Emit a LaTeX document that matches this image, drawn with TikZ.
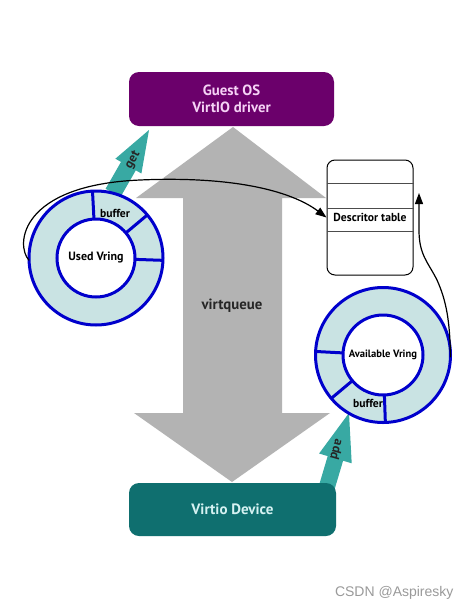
\documentclass[tikz,border=0pt]{standalone}
\usepackage{fontspec}
\setmainfont{PT Sans}
\newfontfamily\wmfont{Liberation Sans}
\usetikzlibrary{arrows.meta,calc}
\definecolor{guestpurple}{HTML}{6B006B}
\definecolor{guesttext}{HTML}{F5D2F5}
\definecolor{devteal}{HTML}{0F6F6F}
\definecolor{devtext}{HTML}{D6F2F2}
\definecolor{arrowteal}{HTML}{38A9A3}
\definecolor{bigarrow}{HTML}{B3B3B3}
\definecolor{ringfill}{HTML}{C9E3E3}
\definecolor{ringblue}{HTML}{0000CC}
\definecolor{wmgray}{HTML}{9A9A9A}
\tikzset{
  hostbox/.style={fill=guestpurple, text=guesttext, rounded corners=10pt, minimum width=205pt, minimum height=54pt, align=center, font=\fontsize{14.8}{17}\selectfont\bfseries},
  devbox/.style={fill=devteal, text=devtext, rounded corners=10pt, minimum width=207pt, minimum height=53pt, font=\fontsize{15}{17}\selectfont\bfseries},
  outerring/.style={circle, fill=ringfill, draw=ringblue, line width=3pt, outer sep=0pt, inner sep=0pt},
  innerring/.style={circle, fill=white, draw=ringblue, line width=3pt, outer sep=0pt, inner sep=0pt, font=\fontsize{12}{14}\selectfont\bfseries},
  divider/.style={draw=ringblue, line width=3pt},
  bufflabel/.style={font=\fontsize{11.6}{13}\selectfont\bfseries, inner sep=0pt},
  blockarrow/.style={fill=arrowteal},
  arrowlabel/.style={font=\fontsize{13}{15}\selectfont\bfseries, inner sep=0pt, text=black!85},
  desctable/.style={draw=black, line width=1pt, rounded corners=8pt, fill=white, minimum width=86pt, minimum height=115pt, font=\fontsize{11.6}{13}\selectfont\bfseries},
  linkline/.style={draw=black, line width=1.2pt, -{Triangle[length=11pt,width=8pt]}}
}
\begin{document}
\begin{tikzpicture}[x=1pt,y=-1pt]
\useasboundingbox[fill=white] (0,0) rectangle (472,611);

% big grey double arrow (virtqueue)
\fill[bigarrow] (233,127) -- (326,198) -- (282,198) -- (282,413) -- (330,413) -- (232,482)
  -- (134,413) -- (183,413) -- (183,198) -- (136,198) -- cycle;
\node[font=\fontsize{14.8}{17}\selectfont\bfseries, text=black!85] (vq) at (232,306) {virtqueue};

% teal block arrows
\fill[blockarrow] (105.6,188.8) -- (121,161.9) -- (115.4,158.7) -- (149,130) -- (141.4,173.5) -- (135.8,170.3) -- (120.4,197.2) -- cycle;
\node[arrowlabel, rotate=60] (getl) at (133,160) {get};
\fill[blockarrow] (318.3,487.7) -- (327.7,456.1) -- (319.1,453.5) -- (349,413) -- (351.7,463.3) -- (343.1,460.7) -- (333.7,492.3) -- cycle;
\node[arrowlabel, rotate=-106] (addl) at (337,450) {add};

% boxes
\node[hostbox] (guest) at (231.5,99) {Guest OS\\VirtIO driver};
\node[devbox] (dev) at (232.5,509.5) {Virtio Device};

% descriptor table
\node[desctable] (desc) at (370,217.5) {Descritor table};
\foreach \yy in {183,208,231}
  \draw[line width=0.8pt, black!70] (desc.west |- 0,\yy) -- (desc.east |- 0,\yy);

% used vring
\node[outerring, minimum size=134pt] (uo) at (96,258) {};
\node[innerring, minimum size=78pt] (ui) at (96,258) {Used Vring};
\foreach \a in {93,40,-2}
  \draw[divider] (ui.\a) -- (uo.\a);
\node[bufflabel] (ub) at (115,213) {buffer};

% available vring
\node[outerring, minimum size=135pt] (ao) at (383,355) {};
\node[innerring, minimum size=80pt, font=\fontsize{10.6}{12}\selectfont\bfseries] (ai) at (383,355) {Available Vring};
\foreach \a in {177,220,272}
  \draw[divider] (ai.\a) -- (ao.\a);
\node[bufflabel] (ab) at (368,403) {buffer};

% links
\coordinate (ustart) at (uo.182);
\coordinate (astart) at (ao.-2);
\coordinate (dleft) at (desc.west);
\coordinate (dbot) at (419,193);
\draw[linkline] (ustart) .. controls (15,245) and (20,185) .. (140,180)
  .. controls (230,176) and (290,190) .. (dleft);
\draw[linkline] (astart) .. controls (450,320) and (446,300) .. (437,280)
  .. controls (428,262) and (419,255) .. (419,230) -- (dbot);

% watermark
\node[font=\wmfont\fontsize{14}{16}\selectfont, text=wmgray, anchor=east] (wm) at (457,593) {CSDN @Aspiresky};
\end{tikzpicture}
\end{document}
